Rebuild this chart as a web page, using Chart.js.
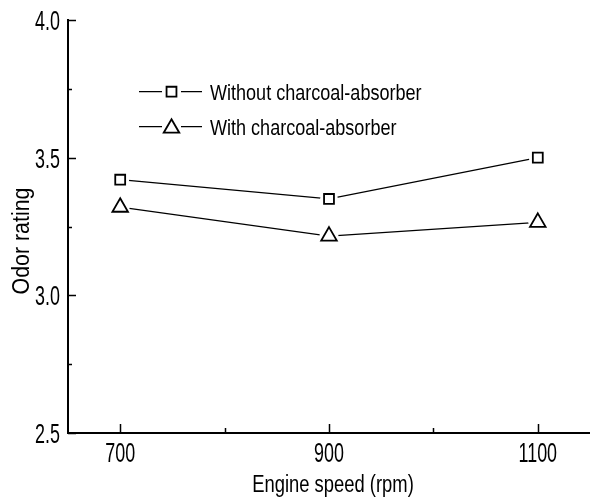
<!DOCTYPE html>
<html>
<head>
<meta charset="utf-8">
<script src="https://cdn.jsdelivr.net/npm/chart.js@4.4.1/dist/chart.umd.min.js"></script>
<style>
  html, body { margin: 0; padding: 0; background: #fff; }
</style>
</head>
<body>
<canvas id="odor" width="590" height="501"></canvas>
<script>
// values
const engineSpeed = [700, 900, 1100];
const withoutAbsorber = [3.42, 3.35, 3.50];
const withAbsorber = [3.32, 3.215, 3.265];
const seriesLabels = ["Without charcoal-absorber", "With charcoal-absorber"];
const xTicks = [700, 900, 1100];
const xMinorTicks = [800, 1000];
const yTicks = [2.5, 3.0, 3.5, 4.0];
const yMinorTicks = [2.75, 3.25, 3.75];
const xTitle = "Engine speed (rpm)";
const yTitle = "Odor rating";

const FONT = "'Liberation Sans', Arial, sans-serif";

const seriesData = [withoutAbsorber, withAbsorber];
const markerStyle = ["rect", "triangle"];
const markerRadius = [7, 9];
const haloRadius = [9, 9.5];

function toPoints(vals) {
    return engineSpeed.map((x, i) => ({ x: x, y: vals[i] }));
}

// markers first (drawn on top), then white halos that cut the line, then the lines
const datasets = [
    ...seriesData.map((vals, i) => ({
        label: seriesLabels[i],
        data: toPoints(vals),
        showLine: false,
        pointStyle: markerStyle[i],
        pointRadius: markerRadius[i],
        pointBackgroundColor: "#fff",
        pointBorderColor: "#000",
        pointBorderWidth: 1.8,
    })),
    ...seriesData.map((vals, i) => ({
        data: toPoints(vals),
        showLine: false,
        pointStyle: "circle",
        pointRadius: haloRadius[i],
        pointBackgroundColor: "#fff",
        pointBorderWidth: 0,
    })),
    ...seriesData.map((vals) => ({
        data: toPoints(vals),
        showLine: true,
        borderColor: "#000",
        borderWidth: 1.3,
        pointRadius: 0,
        tension: 0,
        fill: false,
    })),
];

// the original uses a squeezed font, so text is drawn with a horizontal scale
function squeezedText(ctx, text, x, y, size, sx, align) {
    ctx.save();
    ctx.translate(x, y);
    ctx.scale(sx, 1);
    ctx.font = size + "px " + FONT;
    ctx.textAlign = align;
    ctx.textBaseline = "alphabetic";
    ctx.fillText(text, 0, 0);
    ctx.restore();
}

// inward ticks, tick labels, axis titles and the little legend
const decorations = {
    id: "decorations",
    afterDraw(chart) {
        const ctx = chart.ctx;
        const xs = chart.scales.x;
        const ys = chart.scales.y;
        const area = chart.chartArea;
        ctx.save();
        ctx.strokeStyle = "#000";
        ctx.fillStyle = "#000";
        ctx.lineWidth = 1.5;
        ctx.beginPath();
        yTicks.forEach((v) => {
            const y = Math.round(ys.getPixelForValue(v)) + 0.5;
            ctx.moveTo(area.left, y);
            ctx.lineTo(area.left + 8, y);
        });
        yMinorTicks.forEach((v) => {
            const y = Math.round(ys.getPixelForValue(v)) + 0.5;
            ctx.moveTo(area.left, y);
            ctx.lineTo(area.left + 4, y);
        });
        xTicks.forEach((v) => {
            const x = Math.round(xs.getPixelForValue(v)) + 0.5;
            ctx.moveTo(x, area.bottom);
            ctx.lineTo(x, area.bottom - 9);
        });
        xMinorTicks.forEach((v) => {
            const x = Math.round(xs.getPixelForValue(v)) + 0.5;
            ctx.moveTo(x, area.bottom);
            ctx.lineTo(x, area.bottom - 5);
        });
        ctx.stroke();

        // tick labels
        yTicks.forEach((v) => {
            squeezedText(ctx, v.toFixed(1), area.left - 8, ys.getPixelForValue(v) + 10, 28, 0.64, "right");
        });
        xTicks.forEach((v) => {
            squeezedText(ctx, String(v), xs.getPixelForValue(v), 461.5, 28, 0.64, "center");
        });

        // axis titles
        squeezedText(ctx, xTitle, 333, 491.5, 23, 0.8, "center");
        ctx.save();
        ctx.translate(29, 241);
        ctx.rotate(-Math.PI / 2);
        squeezedText(ctx, yTitle, 0, 0, 23, 0.93, "center");
        ctx.restore();

        // legend
        const rowY = [91.7, 126.7];
        seriesLabels.forEach((label, i) => {
            const y = rowY[i];
            ctx.lineWidth = 1.3;
            ctx.beginPath();
            ctx.moveTo(139, y);
            ctx.lineTo(162, y);
            ctx.moveTo(181, y);
            ctx.lineTo(202, y);
            ctx.stroke();
            ctx.fillStyle = "#fff";
            ctx.lineWidth = 1.8;
            Chart.helpers.drawPoint(ctx, {
                pointStyle: markerStyle[i],
                radius: markerRadius[i],
                rotation: 0,
                borderWidth: 1.8,
            }, 171.5, i === 1 ? y + 1.5 : y);
            ctx.fillStyle = "#000";
            squeezedText(ctx, label, 210, y + 8, 22, 0.82, "left");
        });
        ctx.restore();
    },
};

const config = {
    type: "scatter",
    data: { datasets: datasets },
    options: {
        responsive: false,
        animation: false,
        events: [],
        layout: { autoPadding: false, padding: { top: 20, right: 0, left: 0, bottom: 0 } },
        plugins: {
            legend: { display: false },
            tooltip: { enabled: false },
        },
        scales: {
            x: {
                type: "linear",
                min: 650,
                max: 1150,
                grid: { display: false, drawTicks: false, tickLength: 0 },
                border: { display: true, color: "#000", width: 2 },
                afterBuildTicks: (s) => { s.ticks = xTicks.map((v) => ({ value: v })); },
                afterFit: (s) => { s.height = 68; },
                ticks: { display: false },
            },
            y: {
                type: "linear",
                min: 2.5,
                max: 4.0,
                grid: { display: false, drawTicks: false, tickLength: 0 },
                border: { display: true, color: "#000", width: 2 },
                afterBuildTicks: (s) => { s.ticks = yTicks.map((v) => ({ value: v })); },
                afterFit: (s) => { s.width = 68; },
                ticks: { display: false },
            },
        },
    },
    plugins: [decorations],
};

new Chart(document.getElementById("odor"), config);
</script>
</body>
</html>
